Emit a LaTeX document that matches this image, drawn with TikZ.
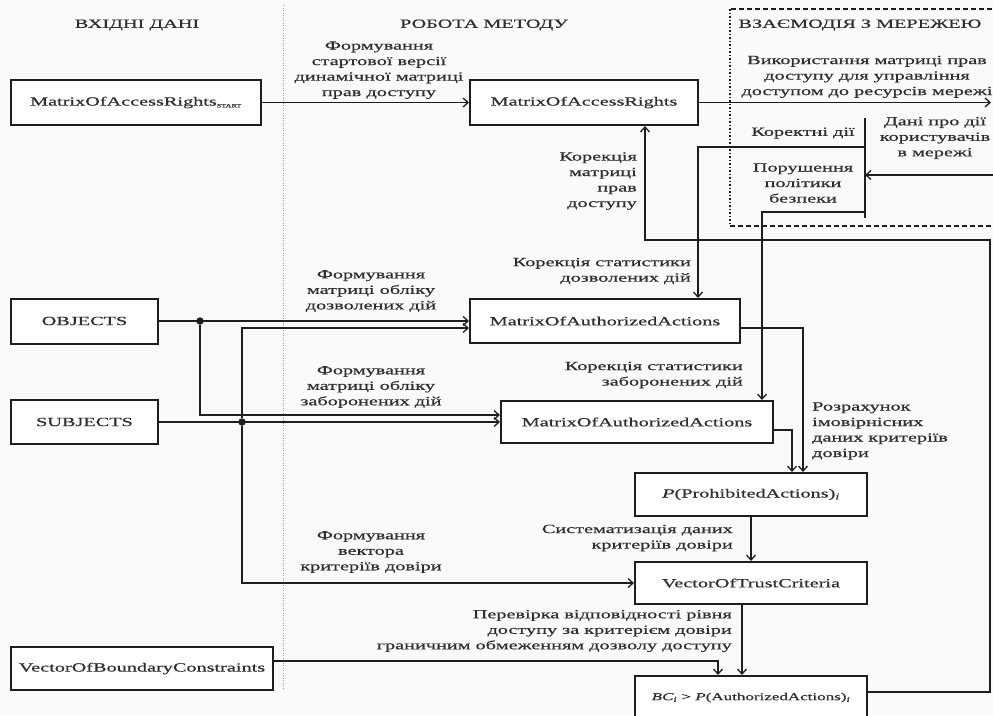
\documentclass[tikz,border=0pt]{standalone}
\usepackage{fontspec}
\setmainfont{Liberation Serif}[FakeStretch=1.62,FakeBold=0.6]
\usetikzlibrary{arrows.meta}
\definecolor{ink}{HTML}{1E1E1E}
\definecolor{txt}{HTML}{2E2E2E}
\definecolor{paper}{HTML}{FAFAFA}
\definecolor{divider}{HTML}{999999}
\begin{document}
\begin{tikzpicture}[x=1pt,y=-1pt,
  font=\fontsize{12.5}{15.5}\selectfont,
  boxnode/.style={draw=ink,line width=2pt,fill=white,text=txt,inner sep=2pt},
  conn/.style={draw=ink,line width=1.7pt},
  arr/.style={conn,-{Straight Barb[length=5pt,width=9pt,line width=1.3pt]}},
  lbl/.style={text=txt,inner sep=0pt,align=center},
  lblr/.style={text=txt,inner sep=0pt,align=right},
  lbll/.style={text=txt,inner sep=0pt,align=left},
  dotnode/.style={circle,fill=ink,inner sep=0pt,minimum size=7.5pt},
]
% canvas
\fill[paper] (0,0) rectangle (993,715);
\useasboundingbox (0,0) rectangle (993,715);

% column separator and network frame
\draw[divider,line width=1pt,dash pattern=on 1pt off 1.5pt] (283,5) -- (283,690);
\draw[ink,line width=1.3pt,dash pattern=on 5pt off 3pt] (1000,9) -- (730,9);
\draw[ink,line width=1.3pt,dash pattern=on 5pt off 3pt] (730,226) -- (1000,226);
\draw[ink,line width=1.3pt,dash pattern=on 1.5pt off 2pt] (730,9) -- (730,226);

% column headings
\node[lbl] (hin) at (137,25) {ВХІДНІ ДАНІ};
\node[lbl] (hmeth) at (484,25) {РОБОТА МЕТОДУ};
\node[lbl] (hnet) at (860,25) {ВЗАЄМОДІЯ З МЕРЕЖЕЮ};

% blocks
\node[boxnode,minimum width=250pt,minimum height=45pt] (mars) at (136,102.5)
  {MatrixOfAccessRights\textsubscript{\fontsize{5}{5}\selectfont START}};
\node[boxnode,minimum width=228pt,minimum height=45pt] (mar) at (584,102.5) {MatrixOfAccessRights};
\node[boxnode,minimum width=147pt,minimum height=45pt] (obj) at (84.5,321) {OBJECTS};
\node[boxnode,minimum width=147pt,minimum height=44pt] (subj) at (84.5,422) {SUBJECTS};
\node[boxnode,minimum width=270pt,minimum height=44pt] (maa1) at (605,321) {MatrixOfAuthorizedActions};
\node[boxnode,minimum width=272pt,minimum height=42pt] (maa2) at (637,422) {MatrixOfAuthorizedActions};
\node[boxnode,minimum width=232pt,minimum height=43pt] (pro) at (751,494.5)
  {{\itshape P}(ProhibitedActions)\textsubscript{\itshape i}};
\node[boxnode,minimum width=232pt,minimum height=42pt] (vtc) at (751,583) {VectorOfTrustCriteria};
\node[boxnode,minimum width=232pt,minimum height=50pt] (bc) at (751,701)
  {\raisebox{9pt}{\fontsize{10.5}{12}\selectfont{\itshape BC}\textsubscript{\itshape i} > {\itshape P}(AuthorizedActions)\textsubscript{\itshape i}}};
\node[boxnode,minimum width=262pt,minimum height=43pt] (vbc) at (142,668.5) {VectorOfBoundaryConstraints};

% junctions
\node[dotnode] (j1) at (200,321) {};
\node[dotnode] (j2) at (242,422) {};
\coordinate (bustop) at (865,118);
\coordinate (busbot) at (865,218);
\coordinate (okout) at (865,147);
\coordinate (badout) at (865,212);
\coordinate (netin) at (993,175);
\coordinate (netout) at (991,102.5);
\coordinate (fbcorner) at (990,240);

% connectors
\draw[arr] (mars.east) -- (mar.west);
\draw[arr] (mar.east) -- (netout);
\draw[conn] (bustop) -- (busbot);
\draw[arr] (netin) -- (netin -| bustop);
\draw[arr] (okout) -| ([xshift=93pt]maa1.north);
\draw[arr] (badout) -| ([xshift=125pt]maa2.north);
\draw[arr] ([yshift=9pt]bc.east) -| (fbcorner) -| ([xshift=61pt]mar.south);

\draw[arr] (obj.east) -- (maa1.west);
\draw[arr] (j1) |- ([yshift=7pt]maa2.west);
\draw[arr] (subj.east) -- (maa2.west);
\draw[arr] (j2) |- ([yshift=-7pt]maa1.west);
\draw[arr] (j2) |- (vtc.west);

\draw[arr] ([yshift=-7pt]maa1.east) -| ([xshift=52pt]pro.north);
\draw[arr] ([yshift=-8pt]maa2.east) -| ([xshift=41pt]pro.north);
\draw[arr] (pro.south) -- (vtc.north);
\draw[arr] ([xshift=-9pt]vtc.south) -- ([xshift=-9pt]bc.north);
\draw[arr] ([yshift=7.5pt]vbc.east) -| ([xshift=-33pt]bc.north);

% connector labels
\node[lbl,anchor=south] (l1) at (379,99)
  {Формування\\стартової версії\\динамічної матриці\\прав доступу};
\node[lbl,anchor=south] (l2) at (867,98)
  {Використання матриці прав\\доступу для управління\\доступом до ресурсів мережі};
\node[lbl] (l3) at (803,133) {Коректні дії};
\node[lbl] (l4) at (803,183) {Порушення\\політики\\безпеки};
\node[lbl] (l5) at (935,138) {Дані про дії\\користувачів\\в мережі};
\node[lblr,anchor=east] (l6) at (637,181) {Корекція\\матриці\\прав\\доступу};
\node[lblr,anchor=east] (l7) at (691,271) {Корекція статистики\\дозволених дій};
\node[lbl] (l8) at (371,291) {Формування\\матриці обліку\\дозволених дій};
\node[lbl] (l9) at (371,387) {Формування\\матриці обліку\\заборонених дій};
\node[lblr,anchor=east] (l10) at (743,375) {Корекція статистики\\заборонених дій};
\node[lbll,anchor=west] (l11) at (812,431) {Розрахунок\\імовірнісних\\даних критеріїв\\довіри};
\node[lblr,anchor=east] (l12) at (733,538) {Систематизація даних\\критеріїв довіри};
\node[lbl] (l13) at (371,552) {Формування\\вектора\\критеріїв довіри};
\node[lblr,anchor=east] (l14) at (732,631)
  {Перевірка відповідності рівня\\доступу за критерієм довіри\\граничним обмеженням дозволу доступу};
\end{tikzpicture}
\end{document}
